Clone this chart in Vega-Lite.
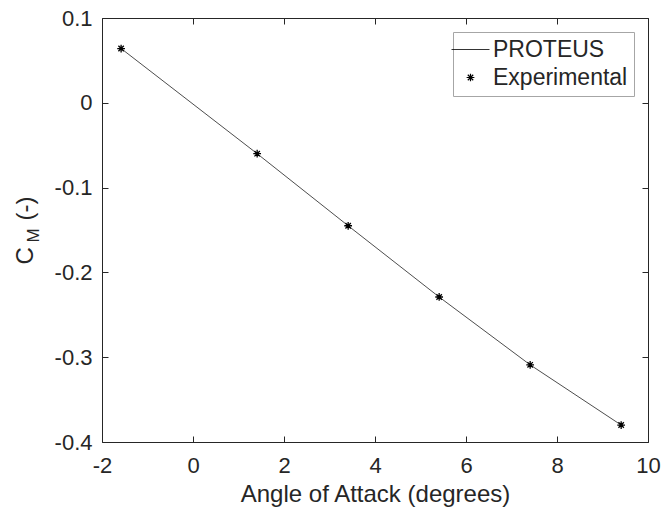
{
  "$schema": "https://vega.github.io/schema/vega-lite/v6.json",
  "width": 546,
  "height": 424,
  "autosize": {"type": "none"},
  "padding": {"left": 102, "top": 18, "right": 24, "bottom": 66},
  "background": "white",
  "config": {
    "view": {"stroke": "#262626", "strokeWidth": 1},
    "font": "Liberation Sans",
    "axis": {
      "labelFont": "Liberation Sans",
      "titleFont": "Liberation Sans",
      "labelColor": "#262626",
      "titleColor": "#262626",
      "tickColor": "#262626",
      "domain": false,
      "grid": false,
      "tickSize": -6,
      "tickWidth": 1,
      "labelFontSize": 22,
      "titleFontSize": 24,
      "titleFontWeight": "normal"
    }
  },
  "datasets": {
    "exp": [
      {"alpha": -1.58, "cm": 0.064},
      {"alpha": 1.41, "cm": -0.060},
      {"alpha": 3.41, "cm": -0.145},
      {"alpha": 5.41, "cm": -0.229},
      {"alpha": 7.41, "cm": -0.309},
      {"alpha": 9.41, "cm": -0.380}
    ]
  },
  "resolve": {"axis": {"x": "independent", "y": "independent"}},
  "layer": [
    {
      "data": {"name": "exp"},
      "mark": {"type": "line", "color": "#000000", "strokeWidth": 0.7},
      "encoding": {
        "x": {
          "field": "alpha",
          "type": "quantitative",
          "scale": {"domain": [-2, 10], "nice": false, "zero": false},
          "axis": {
            "orient": "bottom",
            "values": [-2, 0, 2, 4, 6, 8, 10],
            "labelExpr": "'' + datum.value",
            "labelPadding": 19,
            "labelFlush": false,
            "title": "Angle of Attack (degrees)",
            "titleBaseline": "alphabetic",
            "titleY": 59
          }
        },
        "y": {
          "field": "cm",
          "type": "quantitative",
          "scale": {"domain": [-0.4, 0.1], "nice": false, "zero": false},
          "axis": {
            "orient": "left",
            "values": [-0.4, -0.3, -0.2, -0.1, 0, 0.1],
            "labelExpr": "'' + datum.value",
            "labelPadding": 16,
            "labelFlush": false,
            "title": "C\u00a0\u00a0\u00a0\u00a0(-)",
            "titleAngle": 270,
            "titleAlign": "center",
            "titleBaseline": "alphabetic",
            "titleX": -70,
            "titleY": 212
          }
        },
        "color": {
          "datum": "PROTEUS",
          "type": "nominal",
          "scale": {"domain": ["PROTEUS", "Experimental"], "range": ["#000000", "#000000"]},
          "legend": {
            "title": null,
            "orient": "top-right",
            "offset": 14,
            "fillColor": "white",
            "strokeColor": "#a6a6a6",
            "padding": 6,
            "labelFont": "Liberation Sans",
            "labelFontSize": 23,
            "labelColor": "#262626",
            "labelOffset": 11,
            "symbolType": "stroke",
            "symbolSize": 1444,
            "symbolStrokeWidth": 1,
            "rowPadding": 4,
            "encode": {
              "symbols": {
                "update": {
                  "shape": {"signal": "datum.value === 'PROTEUS' ? 'stroke' : 'M-1,0L1,0M0,-1L0,1M-0.7,-0.7L0.7,0.7M-0.7,0.7L0.7,-0.7'"},
                  "size": {"signal": "datum.value === 'PROTEUS' ? 1444 : 60"},
                  "stroke": {"value": "#000000"},
                  "strokeWidth": {"signal": "datum.value === 'PROTEUS' ? 0.8 : 1.2"},
                  "fill": {"value": "transparent"}
                }
              }
            }
          }
        }
      }
    },
    {
      "data": {"name": "exp"},
      "mark": {
        "type": "point",
        "shape": "M-1,0L1,0M0,-1L0,1M-0.7,-0.7L0.7,0.7M-0.7,0.7L0.7,-0.7",
        "filled": false,
        "size": 60,
        "strokeWidth": 1.3,
        "opacity": 1
      },
      "encoding": {
        "x": {
          "field": "alpha",
          "type": "quantitative",
          "axis": {
            "orient": "top",
            "values": [-2, 0, 2, 4, 6, 8, 10],
            "labels": false,
            "title": null
          }
        },
        "y": {
          "field": "cm",
          "type": "quantitative",
          "axis": {
            "orient": "right",
            "values": [-0.4, -0.3, -0.2, -0.1, 0, 0.1],
            "labels": false,
            "title": "M",
            "titleFontSize": 17,
            "titleAngle": 270,
            "titleAlign": "center",
            "titleBaseline": "alphabetic",
            "titleX": -610,
            "titleY": 217
          }
        },
        "color": {"datum": "Experimental", "type": "nominal"}
      }
    }
  ]
}
